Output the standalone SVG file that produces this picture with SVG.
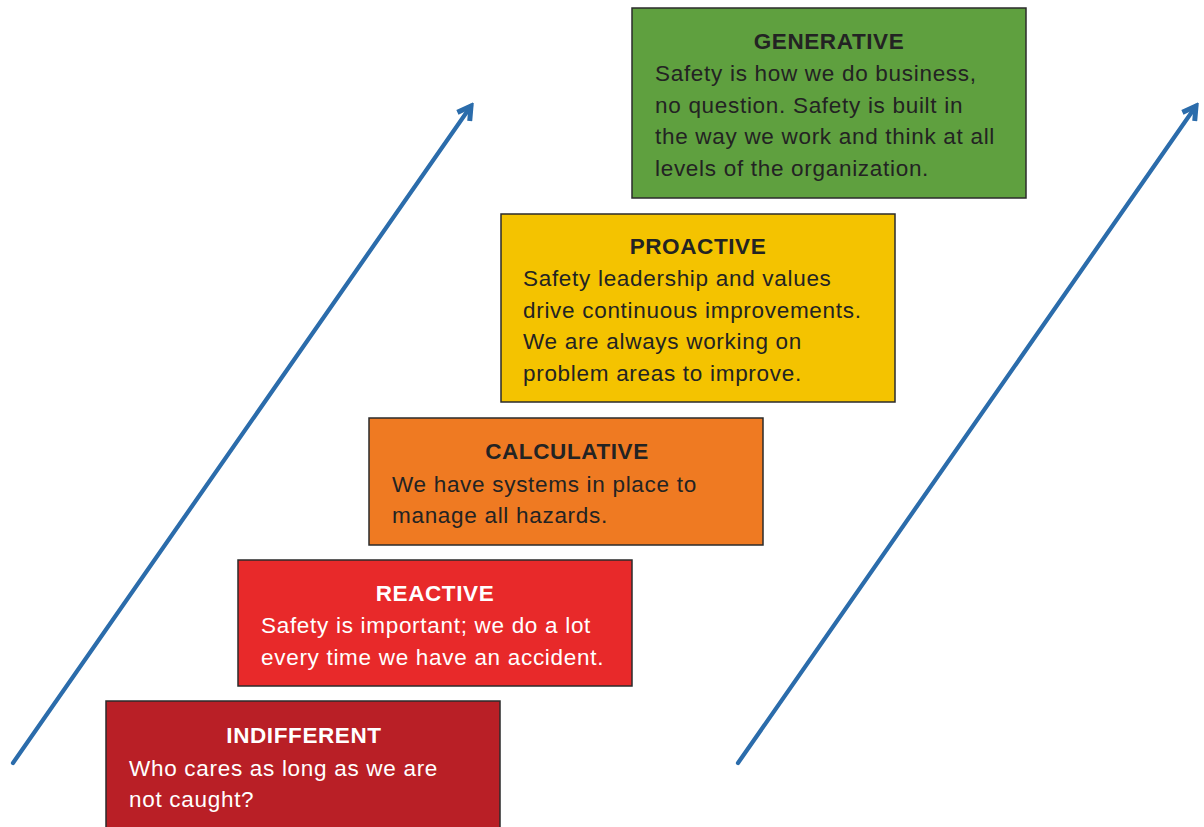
<svg xmlns="http://www.w3.org/2000/svg" width="1204" height="827" viewBox="0 0 1204 827">
  <defs>
    <marker id="chevron" viewBox="0 0 20 20" refX="16" refY="10" markerWidth="20" markerHeight="20" markerUnits="userSpaceOnUse" orient="auto">
      <path d="M3,2.5 L16,10 L3,17.5" fill="none" stroke="#2b6cab" stroke-width="5" stroke-linejoin="miter"/>
    </marker>
    <style>
      .box { stroke: #2b2b2b; stroke-width: 1.5; }
      .title { font-family: "Liberation Sans", Arial, sans-serif; font-weight: bold; font-size: 22.5px; letter-spacing: 0.6px; text-anchor: middle; }
      .body { font-family: "Liberation Sans", Arial, sans-serif; font-size: 22.5px; letter-spacing: 0.7px; }
      .dark { fill: #232323; }
      .light { fill: #ffffff; }
      .arrow { stroke: #2b6cab; stroke-width: 4.2; stroke-linecap: round; fill: none; }
    </style>
  </defs>

  <rect width="1204" height="827" fill="#ffffff"/>

  <g id="connectors">
    <line class="arrow" x1="13" y1="763" x2="471" y2="106" marker-end="url(#chevron)"/>
    <line class="arrow" x1="738" y1="763" x2="1196" y2="106" marker-end="url(#chevron)"/>
  </g>

  <g id="generative">
    <rect class="box" x="632" y="8" width="394" height="190" fill="#5fa03f"/>
    <text class="title dark" x="829" y="49">GENERATIVE</text>
    <text class="body dark" x="655" y="81">Safety is how we do business,</text>
    <text class="body dark" x="655" y="113">no question. Safety is built in</text>
    <text class="body dark" x="655" y="144">the way we work and think at all</text>
    <text class="body dark" x="655" y="176">levels of the organization.</text>
  </g>

  <g id="proactive">
    <rect class="box" x="501" y="214" width="394" height="188" fill="#f4c300"/>
    <text class="title dark" x="698" y="254">PROACTIVE</text>
    <text class="body dark" x="523" y="286">Safety leadership and values</text>
    <text class="body dark" x="523" y="318">drive continuous improvements.</text>
    <text class="body dark" x="523" y="349">We are always working on</text>
    <text class="body dark" x="523" y="381">problem areas to improve.</text>
  </g>

  <g id="calculative">
    <rect class="box" x="369" y="418" width="394" height="127" fill="#ef7a22"/>
    <text class="title dark" x="567" y="459">CALCULATIVE</text>
    <text class="body dark" x="392" y="492">We have systems in place to</text>
    <text class="body dark" x="392" y="523">manage all hazards.</text>
  </g>

  <g id="reactive">
    <rect class="box" x="238" y="560" width="394" height="126" fill="#e8292a"/>
    <text class="title light" x="435" y="601">REACTIVE</text>
    <text class="body light" x="261" y="633">Safety is important; we do a lot</text>
    <text class="body light" x="261" y="665">every time we have an accident.</text>
  </g>

  <g id="indifferent">
    <rect class="box" x="106" y="701" width="394" height="130" fill="#b91f26"/>
    <text class="title light" x="304" y="743">INDIFFERENT</text>
    <text class="body light" x="129" y="776">Who cares as long as we are</text>
    <text class="body light" x="129" y="807">not caught?</text>
  </g>
</svg>
